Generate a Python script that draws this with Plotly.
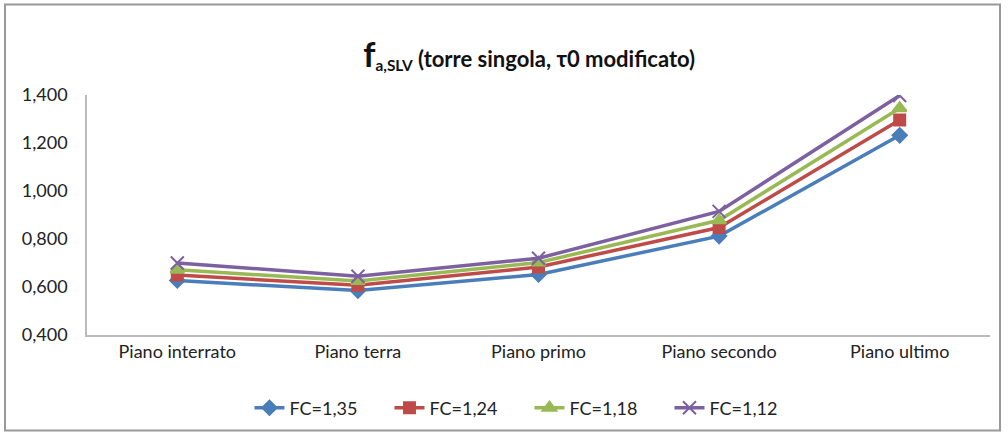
import plotly.graph_objects as go

categories = ["Piano interrato", "Piano terra", "Piano primo", "Piano secondo", "Piano ultimo"]
series_names = ["FC=1,35", "FC=1,24", "FC=1,18", "FC=1,12"]
fc135 = [0.627, 0.585, 0.652, 0.812, 1.232]
fc124 = [0.650, 0.607, 0.683, 0.848, 1.296]
fc118 = [0.672, 0.625, 0.702, 0.878, 1.345]
fc112 = [0.700, 0.645, 0.720, 0.915, 1.398]
y_ticks = [0.4, 0.6, 0.8, 1.0, 1.2, 1.4]

colors = ["#4A7EBB", "#BE4B48", "#98B954", "#7D60A0"]
symbols = ["diamond", "square", "triangle-up", "x-thin-open"]
sizes = [11, 11, 12, 13]

fig = go.Figure()
for name, vals, c, s, sz in zip(series_names, [fc135, fc124, fc118, fc112], colors, symbols, sizes):
    fig.add_trace(go.Scatter(
        x=categories, y=vals, name=name, mode="lines+markers",
        line=dict(color=c, width=3.5),
        marker=dict(symbol=s, size=sz, color=c, line=dict(color=c, width=2)),
    ))

L, R, T, B = 87, 18, 95, 101
pw, ph = 1008 - L - R, 437 - T - B

fig.update_layout(
    width=1008, height=437,
    paper_bgcolor="white", plot_bgcolor="white",
    separators=",.",
    margin=dict(l=L, r=R, t=T, b=B),
    font=dict(family="Lato, Open Sans, sans-serif", size=17, color="#222"),
    title=dict(
        text="<b><span style='font-size:34px'>f</span><sub>a,SLV</sub> (torre singola, τ0 modificato)</b>",
        x=0.525, xanchor="center", y=0.865, yanchor="middle",
        font=dict(size=22, color="#111"),
    ),
    xaxis=dict(range=[-0.5, 4.5], showline=True, linecolor="#BBBBBB", linewidth=1.5,
               showgrid=False, ticks="", tickfont=dict(size=18)),
    yaxis=dict(range=[0.4, 1.4], tickvals=y_ticks, tickformat=".3f",
               showline=True, linecolor="#BBBBBB", linewidth=1.5, showgrid=False,
               ticks="", tickfont=dict(size=18), zeroline=False, ticklabelstandoff=14),
    legend=dict(orientation="h", x=0.49, xanchor="center", y=-(408 - 336) / ph, yanchor="middle",
                font=dict(size=18), traceorder="normal",
                entrywidth=95, entrywidthmode="pixels"),
    shapes=[dict(type="rect", xref="paper", yref="paper",
                 x0=-(L - 5) / pw, x1=1 + (R - 8) / pw,
                 y0=-(432 - (437 - B)) / ph, y1=1 + (T - 4) / ph,
                 line=dict(color="#999999", width=2))],
)

fig.write_html("out.html")
